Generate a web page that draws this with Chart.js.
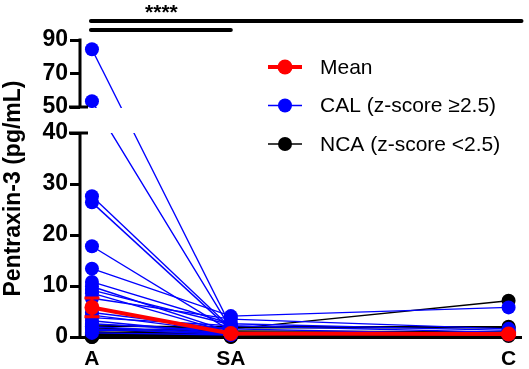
<!DOCTYPE html>
<html><head><meta charset="utf-8">
<script src="https://cdn.jsdelivr.net/npm/chart.js@4"></script>
<style>html,body{margin:0;padding:0;background:#fff}#wrap{width:529px;height:369px}</style>
</head><body><div id="wrap"><canvas id="c" width="529" height="369"></canvas></div>
<script>
// ---- data ----
const categories = ['A', 'SA', 'C'];
const categoryPos = [0, 1, 3];
const seriesLabels = ['Mean', 'CAL (z-score \u22652.5)', 'NCA (z-score <2.5)'];
const yTitle = 'Pentraxin-3 (pg/mL)';
const starsLabel = '****';
const lowTicks = [0, 10, 20, 30, 40];
const highTicks = [50, 70, 90];

const calA  = [84.5, 53.5, 27.6, 26.4, 17.8, 13.4, 10.8, 9.9, 9.2, 8.6, 7.6, 4.8, 4.3, 3.8, 3.2, 2.6, 2.0, 1.6, 1.2, 0.8];
const calSA = [2.1, 1.6, 1.8, 1.4, 1.2, 4.1, 2.6, 1.0, 2.4, 0.8, 3.5, 1.5, 0.9, 2.2, 0.6, 1.1, 0.7, 0.5, 1.9, 0.4];
const calC  = [null, 0.5, null, null, null, 5.8, 1.3, null, null, null, 1.6, null, null, 0.9, null, null, null, null, null, null];

const ncaA  = [2.4, 2.1, 1.8, 1.6, 1.4, 1.2, 1.0, 0.9, 0.8, 0.7, 0.6, 0.5, 0.4, 0.3, 0.3, 0.2, 0.2, 0.1, 0.0, 0.0];
const ncaSA = [1.6, 2.0, 0.8, 1.2, 0.5, 1.8, 0.6, 0.3, 1.0, 0.4, 0.2, 0.7, 0.3, 0.1, 0.5, 0.2, 0.1, 0.4, 0.0, 0.2];
const ncaC  = [7.1, 2.0, null, 1.0, null, 1.8, null, null, 0.6, null, 0.4, null, null, null, 0.2, null, null, null, null, null];

const meanVals = [5.8, 0.7, 0.6];
const meanErr  = [1.85, 0.2, 0.2];

// ---- broken-axis transform ----
const BREAK_LOW = 40, BREAK_HIGH = 50, GAP = 5.1, TOP_SCALE = 0.3285;
function toAxis(v) { if (v == null) return null; return v <= BREAK_LOW ? v : BREAK_LOW + GAP + (v - BREAK_HIGH) * TOP_SCALE; }
function fromAxis(p) { return p <= BREAK_LOW + 1e-6 ? p : BREAK_HIGH + (p - BREAK_LOW - GAP) / TOP_SCALE; }

const FONT = "'Liberation Sans', Arial, Helvetica, sans-serif";
Chart.defaults.font.family = FONT;
Chart.defaults.color = '#000';

const COLORS = { mean: '#ff0000', cal: '#0000ff', nca: '#000000' };

function seriesPoints(vals) {
  const pts = [];
  vals.forEach((v, i) => { if (v != null) pts.push({ x: categoryPos[i], y: toAxis(v) }); });
  return pts;
}
function patientSet(a, sa, c, color, label) {
  return {
    label, data: seriesPoints([a, sa, c]),
    borderColor: color, backgroundColor: color,
    pointBackgroundColor: color, pointBorderColor: color,
    borderWidth: 1.4, pointRadius: 7, pointBorderWidth: 0, pointHoverRadius: 7,
    clip: false, tension: 0
  };
}

const datasets = [];
datasets.push({
  label: seriesLabels[0], data: seriesPoints(meanVals),
  borderColor: COLORS.mean, backgroundColor: COLORS.mean,
  pointBackgroundColor: COLORS.mean, pointBorderColor: COLORS.mean,
  borderWidth: 4, pointRadius: 7.5, pointBorderWidth: 0, clip: false, tension: 0
});
calA.forEach((v, i) => datasets.push(patientSet(v, calSA[i], calC[i], COLORS.cal, seriesLabels[1])));
ncaA.forEach((v, i) => datasets.push(patientSet(v, ncaSA[i], ncaC[i], COLORS.nca, seriesLabels[2])));

const brokenAxis = {
  id: 'brokenAxis',
  beforeDatasetsDraw(chart) {
    const { ctx, scales: { y } } = chart;
    const yHi = y.getPixelForValue(toAxis(BREAK_HIGH));
    const yLo = y.getPixelForValue(toAxis(BREAK_LOW));
    ctx.save();
    ctx.beginPath();
    ctx.rect(0, 0, chart.width, yHi + 1);
    ctx.rect(0, yLo, chart.width, chart.height - yLo);
    ctx.clip();
  },
  afterDatasetsDraw(chart) {
    const { ctx, scales: { x, y } } = chart;
    ctx.restore();
    // error bars for the mean
    ctx.save();
    ctx.strokeStyle = COLORS.mean;
    ctx.lineWidth = 3;
    meanVals.forEach((m, i) => {
      const px = x.getPixelForValue(categoryPos[i]);
      const yt = y.getPixelForValue(toAxis(m + meanErr[i]));
      const yb = y.getPixelForValue(toAxis(m - meanErr[i]));
      ctx.beginPath();
      ctx.moveTo(px, yt); ctx.lineTo(px, yb);
      ctx.moveTo(px - 7.5, yt); ctx.lineTo(px + 7.5, yt);
      ctx.moveTo(px - 7.5, yb); ctx.lineTo(px + 7.5, yb);
      ctx.stroke();
    });
    ctx.restore();
  },
  afterDraw(chart) {
    const { ctx, chartArea: ca, scales: { x, y } } = chart;
    ctx.save();
    ctx.strokeStyle = '#000';
    ctx.lineWidth = 3;
    ctx.lineCap = 'butt';
    const y0 = y.getPixelForValue(0);
    const yLo = y.getPixelForValue(toAxis(BREAK_LOW));
    const yHi = y.getPixelForValue(toAxis(BREAK_HIGH));
    const yTop = y.getPixelForValue(toAxis(90));
    const ax = ca.left;
    ctx.beginPath();
    ctx.moveTo(ax, y0 + 1.5); ctx.lineTo(ax, yLo);
    ctx.moveTo(ax, yHi); ctx.lineTo(ax, yTop - 1.5);
    // break marks
    ctx.moveTo(ax - 11, yLo); ctx.lineTo(ax + 8, yLo);
    ctx.moveTo(ax - 11, yHi); ctx.lineTo(ax + 8, yHi);
    ctx.stroke();

    // significance bracket lines
    const pA = x.getPixelForValue(categoryPos[0]);
    const pSA = x.getPixelForValue(categoryPos[1]);
    ctx.lineWidth = 4;
    ctx.lineCap = 'round';
    ctx.beginPath();
    ctx.moveTo(pA - 1, 21); ctx.lineTo(ca.right, 21);
    ctx.moveTo(pA - 1, 30); ctx.lineTo(pSA, 30);
    ctx.stroke();
    ctx.fillStyle = '#000';
    ctx.font = 'bold 21px ' + FONT;
    ctx.textAlign = 'center';
    ctx.textBaseline = 'alphabetic';
    ctx.fillText(starsLabel, (pA + pSA) / 2, 19);

    // legend
    const legendColors = [COLORS.mean, COLORS.cal, COLORS.nca];
    const legendWidths = [4, 1.6, 1.6];
    const legendRadius = [7.5, 7, 7];
    ctx.font = '21px ' + FONT;
    ctx.textAlign = 'left';
    ctx.textBaseline = 'middle';
    ctx.lineCap = 'butt';
    seriesLabels.forEach((lab, i) => {
      const ly = 67 + i * 38.5;
      ctx.strokeStyle = legendColors[i];
      ctx.fillStyle = legendColors[i];
      ctx.lineWidth = legendWidths[i];
      ctx.beginPath(); ctx.moveTo(268, ly); ctx.lineTo(302, ly); ctx.stroke();
      ctx.beginPath(); ctx.arc(285, ly, legendRadius[i], 0, Math.PI * 2); ctx.fill();
      ctx.fillStyle = '#000';
      ctx.fillText(lab, 320, ly + 1);
    });
    ctx.restore();
  }
};

new Chart(document.getElementById('c'), {
  type: 'line',
  data: { datasets },
  plugins: [brokenAxis],
  options: {
    animation: false, responsive: false,
    layout: { padding: { top: 40, right: 4, left: 0, bottom: 0 } },
    plugins: { legend: { display: false }, tooltip: { enabled: false } },
    scales: {
      x: {
        type: 'linear', min: -0.086, max: 3.093,
        grid: { display: false },
        border: { display: true, width: 3, color: '#000' },
        afterBuildTicks: s => { s.ticks = categoryPos.map(v => ({ value: v })); },
        ticks: {
          callback: v => categories[categoryPos.indexOf(v)],
          font: { size: 21, weight: 'bold' }, color: '#000', padding: 2,
          autoSkip: false, maxRotation: 0
        },
        afterFit: s => { s.height = 32; }
      },
      y: {
        type: 'linear', min: 0, max: toAxis(90),
        grid: { display: true, drawOnChartArea: false, drawTicks: true, tickLength: 10, tickWidth: 3, color: '#000' },
        border: { display: false },
        afterBuildTicks: s => { s.ticks = lowTicks.concat(highTicks).map(v => ({ value: toAxis(v) })); },
        ticks: {
          callback: v => String(Math.round(fromAxis(v))),
          font: { size: 23, weight: 'bold' }, color: '#000', padding: 2, autoSkip: false
        },
        title: { display: true, text: yTitle, font: { size: 23, weight: 'bold' }, color: '#000', padding: { top: 0, bottom: 0 } },
        afterFit: s => { s.width = 80; }
      }
    }
  }
});
</script>
</body></html>
